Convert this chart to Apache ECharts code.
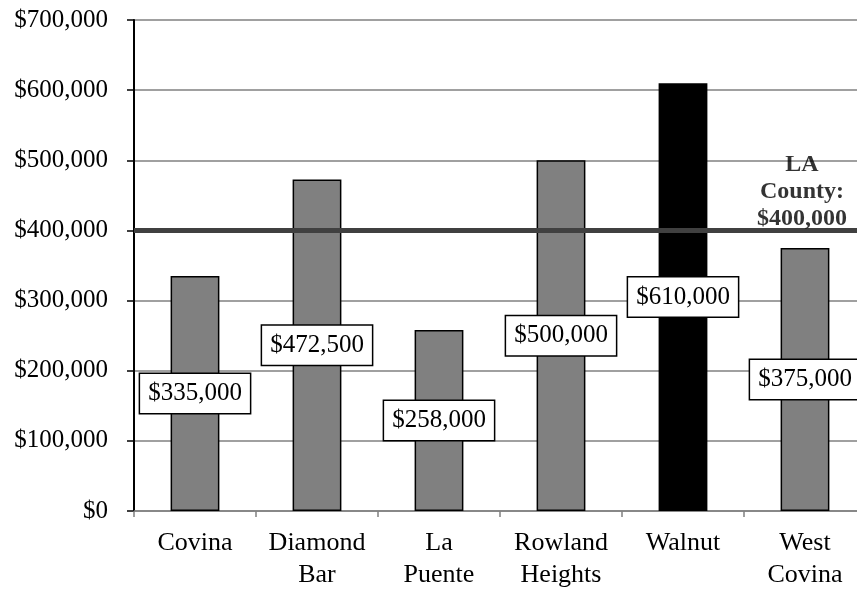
<!DOCTYPE html>
<html><head><meta charset="utf-8">
<script src="https://cdn.jsdelivr.net/npm/echarts@6/dist/echarts.min.js"></script>
<style>html,body{margin:0;padding:0;background:#fff}#c{width:857px;height:591px}</style>
</head><body><div id="c"></div>
<script>
var categories = ['Covina', 'Diamond\nBar', 'La\nPuente', 'Rowland\nHeights', 'Walnut', 'West\nCovina'];
var values = [335000, 472500, 258000, 500000, 610000, 375000];
var highlighted = ['Walnut'];
var countyValue = [400000];
var countyLabel = ['LA', 'County:', '$400,000'];
var yTicks = [0, 100000, 200000, 300000, 400000, 500000, 600000, 700000];

var FONT = '"Liberation Serif", serif';
function money(v){ return '$' + v.toLocaleString('en-US'); }

var chart = echarts.init(document.getElementById('c'));
chart.setOption({
  animation: false,
  grid: { left: 134, right: -9, top: 20, bottom: 80, containLabel: false, outerBoundsMode: 'none' },
  xAxis: {
    type: 'category', data: categories,
    axisLine: { lineStyle: { color: '#808080', width: 1.5 } },
    axisTick: { show: true, length: 6, lineStyle: { color: '#808080', width: 1.5 } },
    axisLabel: { fontFamily: FONT, fontSize: 26, color: '#000', lineHeight: 32, margin: 16, interval: 0 }
  },
  yAxis: {
    type: 'value', min: yTicks[0], max: yTicks[yTicks.length-1], interval: 100000,
    axisLine: { show: true, lineStyle: { color: '#000', width: 2 } },
    axisTick: { show: true, length: 7, lineStyle: { color: '#000', width: 1.5 } },
    splitLine: { lineStyle: { color: '#808080', width: 1.5 } },
    axisLabel: { fontFamily: FONT, fontSize: 25, color: '#000', margin: 26, formatter: money }
  },
  series: [
    {
      type: 'bar', barWidth: '40%',
      data: values.map(function(v, i){
        var hl = highlighted.indexOf(categories[i]) >= 0;
        return { value: v, itemStyle: { color: hl ? '#000' : '#808080' } };
      }),
      itemStyle: { borderColor: '#000', borderWidth: 1.5 },
      label: {
        show: true, position: 'inside', formatter: function(p){ return money(p.value); },
        fontFamily: FONT, fontSize: 25, color: '#000',
        backgroundColor: '#fff', borderColor: '#000', borderWidth: 1.5,
        padding: [8, 8, 6, 8]
      },
      markLine: {
        silent: true, symbol: 'none',
        lineStyle: { color: '#404040', width: 5, type: 'solid' },
        label: { show: false },
        data: [{ yAxis: countyValue[0] }]
      },
      z: 2
    },
    {
      type: 'scatter', symbolSize: 0,
      data: [[categories[5], countyValue[0]]],
      label: {
        show: true, position: 'top', distance: -2, offset: [-3, 0],
        formatter: countyLabel.join('\n'),
        fontFamily: FONT, fontSize: 24, fontWeight: 'bold', color: '#000', lineHeight: 27
      },
      z: 5
    }
  ]
});
</script></body></html>
